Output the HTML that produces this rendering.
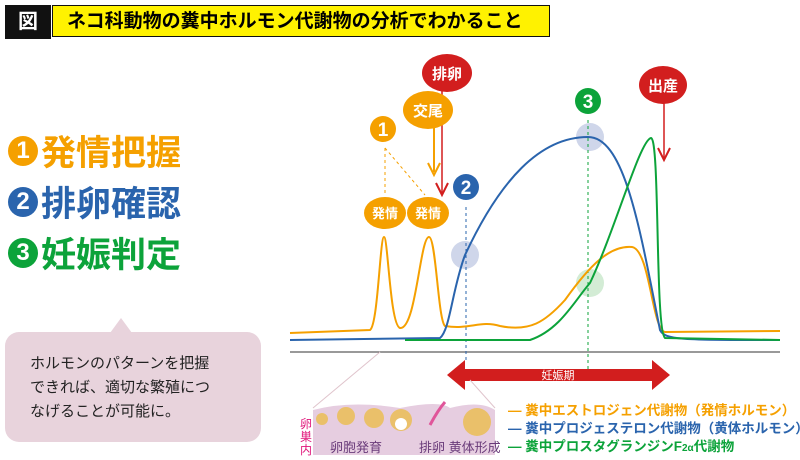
<!DOCTYPE html>
<html><head><meta charset="utf-8"><style>
body{margin:0;width:800px;height:460px;background:#fff;overflow:hidden;font-family:"Liberation Sans","Noto Sans CJK JP",sans-serif;position:relative}
.a{position:absolute}
.lbl{position:absolute;left:8px;font-size:35px;font-weight:bold;display:flex;align-items:center;white-space:nowrap}
.lbl span.n{display:inline-block;width:30px;height:30px;border-radius:50%;color:#fff;font-size:24px;line-height:30px;text-align:center;margin-right:3px}
</style></head><body>
<div class="a" style="left:5px;top:5px;width:46px;height:34px;background:#111;color:#fff;font-weight:bold;font-size:20px;line-height:34px;text-align:center">図</div>
<div class="a" style="left:52px;top:5px;width:498px;height:32px;background:#fff200;border:1px solid #111;font-weight:bold;font-size:19px;line-height:32px;padding-left:14px;box-sizing:border-box">ネコ科動物の糞中ホルモン代謝物の分析でわかること</div>
<div class="lbl" style="top:125px;color:#f5a000"><span class="n" style="background:#f5a000">1</span>発情把握</div>
<div class="lbl" style="top:176px;color:#2a64ad"><span class="n" style="background:#2a64ad">2</span>排卵確認</div>
<div class="lbl" style="top:227px;color:#0ca33a"><span class="n" style="background:#0ca33a">3</span>妊娠判定</div>
<div class="a" style="left:5px;top:332px;width:256px;height:110px;background:#e8d3dc;border-radius:14px"></div>
<div class="a" style="left:110px;top:318px;width:0;height:0;border-left:11px solid transparent;border-right:11px solid transparent;border-bottom:15px solid #e8d3dc"></div>
<div class="a" style="left:30px;top:352px;font-size:15px;line-height:24px;color:#222">ホルモンのパターンを把握<br>できれば、適切な繁殖につ<br>なげることが可能に。</div>
<svg class="a" style="left:0;top:0" width="800" height="460">
<line x1="290" y1="352" x2="780" y2="352" stroke="#333" stroke-width="1"/>
<circle cx="465" cy="255" r="14" fill="#cfd6ea"/>
<circle cx="590" cy="137" r="14" fill="#cfd6ea"/>
<circle cx="590" cy="283" r="14" fill="#d3ecd5"/>
<line x1="466" y1="207" x2="466" y2="360" stroke="#2a64ad" stroke-dasharray="3,3"/>
<line x1="588" y1="120" x2="588" y2="370" stroke="#0ca33a" stroke-dasharray="3,3"/>
<path d="M290 333 L370 330 C378 325 380 237 384 237 C388 237 390 325 400 328 C416 330 420 237 429 237 C436 237 438 320 445 326 C470 330 480 320 500 326 C530 332 545 322 565 300 C590 265 610 245 632 247 C650 250 652 330 665 332 L780 331" fill="none" stroke="#f5a000" stroke-width="2"/>
<path d="M290 340 L440 338 C450 330 452 290 465 255 C500 180 540 137 588 137 C625 137 640 230 660 330 C665 340 680 340 780 340" fill="none" stroke="#2a64ad" stroke-width="2"/>
<path d="M405 340 L530 340 C560 330 575 300 590 283 C615 230 640 140 651 138 C660 138 655 330 665 338 L780 340" fill="none" stroke="#0ca33a" stroke-width="2"/>
<line x1="385" y1="148" x2="385" y2="195" stroke="#f5a000" stroke-dasharray="3,3"/>
<line x1="385" y1="148" x2="425" y2="195" stroke="#f5a000" stroke-dasharray="3,3"/>
<line x1="434" y1="125" x2="434" y2="172" stroke="#f5a000" stroke-width="2"/>
<path d="M428 163 L434 175 L440 163" fill="none" stroke="#f5a000" stroke-width="2"/>
<line x1="442" y1="90" x2="442" y2="195" stroke="#d21e1e" stroke-width="1.5"/>
<path d="M436 183 L442 195 L448 183" fill="none" stroke="#d21e1e" stroke-width="2"/>
<line x1="664" y1="100" x2="664" y2="160" stroke="#d21e1e" stroke-width="1.5"/>
<path d="M658 148 L664 160 L670 148" fill="none" stroke="#d21e1e" stroke-width="2"/>
<ellipse cx="447" cy="73" rx="25" ry="19" fill="#d21e1e"/>
<text x="447" y="79" font-size="15" font-weight="bold" fill="#fff" text-anchor="middle">排卵</text>
<ellipse cx="428" cy="110" rx="25" ry="19" fill="#f5a000"/>
<text x="428" y="116" font-size="15" font-weight="bold" fill="#fff" text-anchor="middle">交尾</text>
<ellipse cx="663" cy="85" rx="24" ry="19" fill="#d21e1e"/>
<text x="663" y="91" font-size="15" font-weight="bold" fill="#fff" text-anchor="middle">出産</text>
<circle cx="383" cy="129" r="13" fill="#f5a000"/><text x="383" y="136" font-size="19" font-weight="bold" fill="#fff" text-anchor="middle">1</text>
<circle cx="466" cy="187" r="13" fill="#2a64ad"/><text x="466" y="194" font-size="19" font-weight="bold" fill="#fff" text-anchor="middle">2</text>
<circle cx="588" cy="101" r="13" fill="#0ca33a"/><text x="588" y="108" font-size="19" font-weight="bold" fill="#fff" text-anchor="middle">3</text>
<ellipse cx="385" cy="213" rx="21" ry="16" fill="#f5a000"/><text x="385" y="218" font-size="13" font-weight="bold" fill="#fff" text-anchor="middle">発情</text>
<ellipse cx="428" cy="213" rx="21" ry="16" fill="#f5a000"/><text x="428" y="218" font-size="13" font-weight="bold" fill="#fff" text-anchor="middle">発情</text>
<path d="M447 375 L465 360 L465 369 L652 369 L652 360 L670 375 L652 390 L652 381 L465 381 L465 390 Z" fill="#d21e1e"/>
<text x="558" y="379" font-size="11" fill="#fff" text-anchor="middle">妊娠期</text>
<line x1="313" y1="408" x2="380" y2="352" stroke="#e0c4cc"/>
<line x1="495" y1="408" x2="470" y2="380" stroke="#e0c4cc"/>
<path d="M313 410 Q350 400 400 408 Q440 400 450 408 Q480 400 495 410 L495 455 L313 455 Z" fill="#e6cde0"/>
<circle cx="322" cy="419" r="6" fill="#eac06a"/><circle cx="346" cy="416" r="9" fill="#eac06a"/><circle cx="374" cy="418" r="10" fill="#eac06a"/><circle cx="401" cy="420" r="11" fill="#eac06a"/><circle cx="401" cy="424" r="6" fill="#fff"/>
<circle cx="477" cy="422" r="14" fill="#eac06a"/>
<path d="M430 425 Q438 410 445 402" fill="none" stroke="#e0559a" stroke-width="3"/>
<text x="300" y="428" font-size="12" fill="#e0157a">卵</text><text x="300" y="441" font-size="12" fill="#e0157a">巣</text><text x="300" y="454" font-size="12" fill="#e0157a">内</text>
<text x="330" y="452" font-size="13" fill="#6a3b7a">卵胞発育</text>
<text x="419" y="452" font-size="13" fill="#6a3b7a">排卵 黄体形成</text>
<g font-size="13.5" font-weight="bold">
<text x="508" y="415" fill="#f5a000">— 糞中エストロジェン代謝物（発情ホルモン）</text>
<text x="508" y="433" fill="#2a64ad">— 糞中プロジェステロン代謝物（黄体ホルモン）</text>
<text x="508" y="451" fill="#0ca33a">— 糞中プロスタグランジンF<tspan font-size="10">2α</tspan>代謝物</text>
</g>
</svg>
</body></html>
